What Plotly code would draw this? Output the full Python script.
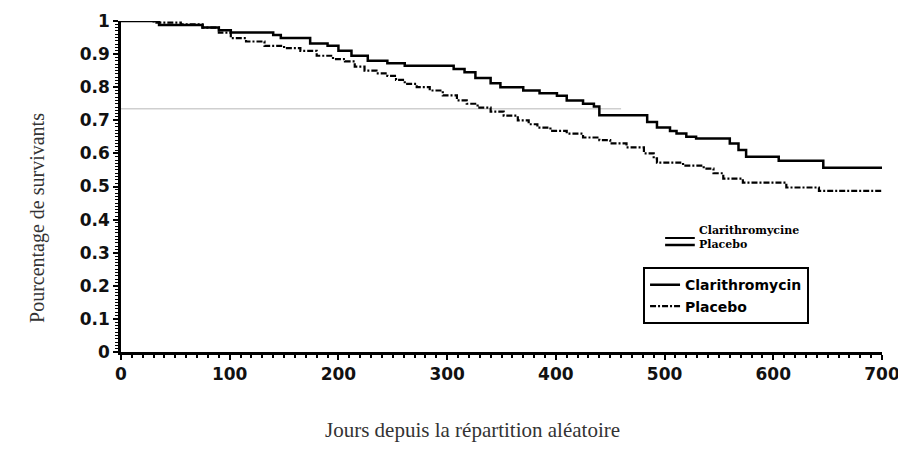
import plotly.graph_objects as go

# Kaplan-Meier style survival curves
clari_days = [0, 35, 75, 90, 101, 140, 147, 174, 190, 200, 212, 227, 245, 261, 306,
              316, 326, 340, 349, 370, 385, 401, 410, 425, 435, 440, 484, 493, 505,
              511, 520, 529, 560, 568, 575, 605, 646, 700]
clari_surv = [1.0, 0.988, 0.98, 0.972, 0.965, 0.958, 0.949, 0.932, 0.925, 0.91, 0.895,
              0.88, 0.872, 0.865, 0.855, 0.845, 0.828, 0.812, 0.80, 0.79, 0.782, 0.774,
              0.76, 0.75, 0.742, 0.715, 0.695, 0.678, 0.668, 0.66, 0.65, 0.645, 0.63,
              0.61, 0.59, 0.578, 0.557, 0.557]

placebo_days = [0, 30, 55, 75, 90, 101, 115, 132, 150, 165, 180, 195, 206, 215, 224,
                235, 245, 253, 261, 272, 284, 296, 309, 318, 328, 340, 352, 365, 375,
                383, 395, 410, 425, 440, 450, 465, 481, 490, 493, 517, 536, 545, 554,
                572, 612, 642, 700]
placebo_surv = [1.0, 0.995, 0.99, 0.98, 0.965, 0.948, 0.938, 0.925, 0.918, 0.91, 0.895,
                0.885, 0.878, 0.862, 0.85, 0.842, 0.834, 0.822, 0.81, 0.80, 0.79, 0.775,
                0.76, 0.75, 0.738, 0.726, 0.714, 0.70, 0.688, 0.678, 0.668, 0.66, 0.648,
                0.64, 0.63, 0.618, 0.60, 0.585, 0.572, 0.563, 0.554, 0.54, 0.524, 0.512,
                0.497, 0.487, 0.487]

# faint grey reference line
ref_days = [0, 460]
ref_surv = [0.735, 0.735]

x_ticks = [0, 100, 200, 300, 400, 500, 600, 700]
y_ticks = [0, 0.1, 0.2, 0.3, 0.4, 0.5, 0.6, 0.7, 0.8, 0.9, 1]
y_labels = ["0", "0.1", "0.2", "0.3", "0.4", "0.5", "0.6", "0.7", "0.8", "0.9", "1"]

fig = go.Figure()
fig.add_trace(go.Scatter(x=ref_days, y=ref_surv, mode="lines", showlegend=False,
                         line=dict(color="#cfcfcf", width=1.5), hoverinfo="skip"))
fig.add_trace(go.Scatter(x=clari_days, y=clari_surv, mode="lines", name="Clarithromycin",
                         line=dict(color="black", width=2.5, shape="hv")))
fig.add_trace(go.Scatter(x=placebo_days, y=placebo_surv, mode="lines", name="Placebo",
                         line=dict(color="black", width=2.2, shape="hv",
                                   dash="6px,2px,2px,2px")))

tick_font = dict(family="DejaVu Sans, sans-serif", size=17,
                 color="#111", weight="bold")
title_font = dict(family="Liberation Serif, Times New Roman, serif", color="#333")

# page body has an 8px margin, so the figure is sized 8px smaller
fig.update_layout(
    width=898, height=449,
    margin=dict(l=113, r=24, t=13, b=105),
    paper_bgcolor="white", plot_bgcolor="white",
    font=dict(family="Liberation Serif, Times New Roman, serif", color="#222"),
    showlegend=True,
    legend=dict(x=0.686, y=0.256, xanchor="left", yanchor="top",
                bordercolor="black", borderwidth=2, bgcolor="white",
                font=dict(family="DejaVu Sans, sans-serif",
                          size=14, color="black", weight="bold"),
                tracegroupgap=0, itemwidth=30),
    xaxis=dict(
        range=[0, 700], tickvals=x_ticks, showgrid=False, zeroline=False,
        automargin=False,
        showline=True, linecolor="black", linewidth=2.5,
        ticks="outside", ticklen=5, tickwidth=2, tickcolor="black",
        minor=dict(dtick=10, ticks="outside", ticklen=3, tickwidth=1.5,
                   tickcolor="black", showgrid=False),
        tickfont=tick_font,
    ),
    yaxis=dict(
        range=[0, 1.0], tickvals=y_ticks, ticktext=y_labels, showgrid=False,
        zeroline=False, automargin=False,
        showline=True, linecolor="black", linewidth=2.5,
        ticks="outside", ticklen=5, tickwidth=2, tickcolor="black",
        minor=dict(dtick=0.01, ticks="outside", ticklen=3, tickwidth=1.2,
                   tickcolor="black", showgrid=False),
        tickfont=tick_font,
    ),
)

# axis titles, placed off-centre as in the scan
fig.add_annotation(xref="paper", yref="paper", x=0.4625, y=-0.236,
                   xanchor="center", yanchor="middle", showarrow=False,
                   text="Jours depuis la répartition aléatoire",
                   font=dict(size=21, **title_font))
fig.add_annotation(xref="paper", yref="paper", x=-0.109, y=0.405,
                   xanchor="center", yanchor="middle", showarrow=False,
                   textangle=-90, text="Pourcentage de survivants",
                   font=dict(size=20, **title_font))

# second, French legend (text only with double rule)
fig.add_shape(type="line", xref="paper", yref="paper", x0=0.715, x1=0.754,
              y0=(344 - 230) / 331, y1=(344 - 230) / 331,
              line=dict(color="black", width=2))
fig.add_shape(type="line", xref="paper", yref="paper", x0=0.715, x1=0.754,
              y0=(344 - 237) / 331, y1=(344 - 237) / 331,
              line=dict(color="black", width=2.5))
fig.add_annotation(xref="paper", yref="paper", x=0.757, y=(344 - 222) / 331,
                   xanchor="left", yanchor="middle", showarrow=False,
                   text="<b>Clarithromycine</b>",
                   font=dict(family="DejaVu Serif, serif", size=11, color="black"))
fig.add_annotation(xref="paper", yref="paper", x=0.757, y=(344 - 236) / 331,
                   xanchor="left", yanchor="middle", showarrow=False,
                   text="<b>Placebo</b>",
                   font=dict(family="DejaVu Serif, serif", size=11, color="black"))

fig.write_html("out.html")
